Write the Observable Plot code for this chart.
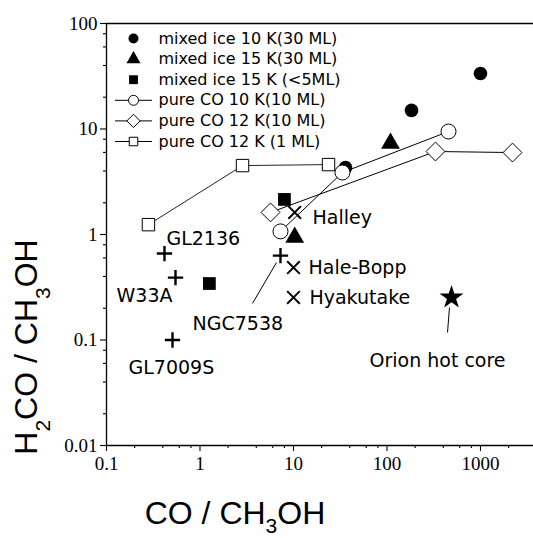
<!DOCTYPE html>
<html>
<head>
<meta charset="utf-8">
<script src="https://cdn.jsdelivr.net/npm/d3@7"></script>
<script src="https://cdn.jsdelivr.net/npm/@observablehq/plot@0.6"></script>
<style>
  html, body { margin: 0; padding: 0; background: white; }
</style>
</head>
<body>
<div id="chart"></div>
<script>
// ---- data ----
const mixed10K_x = [36, 183, 1000];
const mixed10K_y = [4.3, 15.0, 33.6];
const mixed15K_x = [109, 10.3];
const mixed15K_y = [7.3, 0.94];
const mixed15Ks_x = [8.0, 1.26];
const mixed15Ks_y = [2.15, 0.343];
const pureCO10K_x = [7.26, 33.4, 455];
const pureCO10K_y = [1.07, 3.87, 9.47];
const pureCO12K10_x = [5.68, 330, 2200];
const pureCO12K10_y = [1.62, 6.12, 5.98];
const pureCO12K1_x = [0.281, 2.85, 23.7];
const pureCO12K1_y = [1.24, 4.5, 4.6];

const protoNames = ["GL2136", "W33A", "GL7009S", "NGC7538"];
const proto_x = [0.417, 0.547, 0.508, 7.26];
const proto_y = [0.66, 0.39, 0.10, 0.63];
const protoLabel_x = [0.438, 0.128, 0.172, 0.832];
const protoLabel_y = [0.916, 0.264, 0.0548, 0.143];

const cometNames = ["Halley", "Hale-Bopp", "Hyakutake"];
const comet_x = [10.3, 10.0, 10.0];
const comet_y = [1.62, 0.486, 0.253];
const cometLabel_x = [16.0, 14.5, 14.8];
const cometLabel_y = [1.45, 0.487, 0.253];

const orionName = ["Orion hot core"];
const orion_x = [490];
const orion_y = [0.253];
const orionLabel_x = [65];
const orionLabel_y = [0.064];

// leader lines (label -> point)
const leader_x1 = [3.64, 444];
const leader_y1 = [0.222, 0.118];
const leader_x2 = [6.58, 466];
const leader_y2 = [0.543, 0.203];

const legendLabels = [
  "mixed ice 10 K(30 ML)",
  "mixed ice 15 K(30 ML)",
  "mixed ice 15 K (<5ML)",
  "pure CO 10 K(10 ML)",
  "pure CO 12 K(10 ML)",
  "pure CO 12 K (1 ML)"
];

const xTicks = [0.1, 1, 10, 100, 1000];
const yTicks = [0.01, 0.1, 1, 10, 100];
const xTickLabels = ["0.1", "1", "10", "100", "1000"];
const yTickLabels = ["0.01", "0.1", "1", "10", "100"];
const xMinor = [0.2, 0.4, 0.6, 0.8, 2, 4, 6, 8, 20, 40, 60, 80, 200, 400, 600, 800, 2000];
const yMinor = [0.02, 0.04, 0.06, 0.08, 0.2, 0.4, 0.6, 0.8, 2, 4, 6, 8, 20, 40, 60, 80];

const xDomain = [0.1, 3690];
const yDomain = [0.01, 100];

// ---- build tables ----
const zip = (xs, ys, extra = {}) => xs.map((x, i) => ({x, y: ys[i], ...Object.fromEntries(Object.entries(extra).map(([k, v]) => [k, v[i]]))}));
const mixed10K = zip(mixed10K_x, mixed10K_y);
const mixed15K = zip(mixed15K_x, mixed15K_y);
const mixed15Ks = zip(mixed15Ks_x, mixed15Ks_y);
const pureCO10K = zip(pureCO10K_x, pureCO10K_y);
const pureCO12K10 = zip(pureCO12K10_x, pureCO12K10_y);
const pureCO12K1 = zip(pureCO12K1_x, pureCO12K1_y);
const proto = zip(proto_x, proto_y);
const protoLbl = zip(protoLabel_x, protoLabel_y, {name: protoNames});
const comets = zip(comet_x, comet_y);
const cometLbl = zip(cometLabel_x, cometLabel_y, {name: cometNames});
const orion = zip(orion_x, orion_y);
const orionLbl = zip(orionLabel_x, orionLabel_y, {name: orionName});
const leaders = leader_x1.map((x1, i) => ({x1, y1: leader_y1[i], x2: leader_x2[i], y2: leader_y2[i]}));

// custom symbol: short horizontal line for legend
const hline = { draw(ctx, size) { const w = 18.5; ctx.moveTo(-w, 0); ctx.lineTo(w, 0); } };

const labelFont = "DejaVu Sans";
const legendFont = "DejaVu Sans";

const legendRowY = (i) => 15 + 20.6 * i;
const legMarkX = 27, legTextX = 52;
const legendSymbols = [
  {symbol: "circle", r: 5, fill: "black", stroke: "none"},
  {symbol: "triangle", r: 5.2, fill: "black", stroke: "none"},
  {symbol: "square", r: 5, fill: "black", stroke: "none"},
  {symbol: "circle", r: 5, fill: "white", stroke: "black", line: true},
  {symbol: "diamond2", r: 6, fill: "white", stroke: "black", line: true},
  {symbol: "square", r: 4.8, fill: "white", stroke: "black", line: true}
];
const legendMarks = legendSymbols.flatMap((s, i) => {
  const m = [];
  if (s.line) m.push(Plot.dot([0], {frameAnchor: "top-left", dx: legMarkX, dy: legendRowY(i), symbol: hline, stroke: "black", strokeWidth: 1, fill: "none", r: 5}));
  m.push(Plot.dot([0], {frameAnchor: "top-left", dx: legMarkX, dy: legendRowY(i), symbol: s.symbol, r: s.r, fill: s.fill, stroke: s.stroke, strokeWidth: 1}));
  m.push(Plot.text([legendLabels[i]], {frameAnchor: "top-left", dx: legTextX, dy: legendRowY(i), text: d => d, textAnchor: "start", lineAnchor: "middle", fontFamily: legendFont, fontSize: 16, fill: "black"}));
  return m;
});

const chart = Plot.plot({
  width: 533,
  height: 538,
  marginLeft: 106,
  marginTop: 23,
  marginBottom: 93,
  marginRight: 0,
  style: {background: "white", color: "black", fontFamily: "Liberation Serif", fontSize: "19px"},
  x: {type: "log", domain: xDomain},
  y: {type: "log", domain: yDomain},
  marks: [
    Plot.axisX({ticks: xTicks, tickSize: 6, tickPadding: 5, tickFormat: d => xTickLabels[xTicks.indexOf(d)], label: null, fontSize: 19, fontFamily: "Liberation Serif", strokeWidth: 1.1}),
    Plot.axisX({ticks: xMinor, tickSize: 3, tickFormat: () => "", label: null, strokeWidth: 1.1}),
    Plot.axisY({ticks: yTicks, tickSize: 6, tickPadding: 3, tickFormat: d => yTickLabels[yTicks.indexOf(d)], label: null, fontSize: 19, fontFamily: "Liberation Serif", strokeWidth: 1.1}),
    Plot.axisY({ticks: yMinor, tickSize: 3, tickFormat: () => "", label: null, strokeWidth: 1.1}),
    Plot.ruleX([xDomain[0]], {stroke: "black", strokeWidth: 1.3}),
    Plot.ruleY([yDomain[0]], {stroke: "black", strokeWidth: 1.3}),
    Plot.ruleY([yDomain[1]], {stroke: "black", strokeWidth: 1.3}),

    // connecting lines
    Plot.line(pureCO10K, {x: "x", y: "y", stroke: "black", strokeWidth: 1}),
    Plot.line(pureCO12K10, {x: "x", y: "y", stroke: "black", strokeWidth: 1}),
    Plot.line(pureCO12K1, {x: "x", y: "y", stroke: "#222", strokeWidth: 1}),
    Plot.link(leaders, {x1: "x1", y1: "y1", x2: "x2", y2: "y2", stroke: "black", strokeWidth: 1}),

    // experimental points
    Plot.dot(mixed10K, {x: "x", y: "y", symbol: "circle", r: 6.8, fill: "black"}),
    Plot.dot(mixed15K, {x: "x", y: "y", symbol: "triangle", r: 7, fill: "black"}),
    Plot.dot(mixed15Ks, {x: "x", y: "y", symbol: "square", r: 7.2, fill: "black"}),
    Plot.dot(pureCO10K, {x: "x", y: "y", symbol: "circle", r: 7.5, fill: "white", stroke: "black", strokeWidth: 1}),
    Plot.dot(pureCO12K10, {x: "x", y: "y", symbol: "diamond2", r: 8.5, fill: "white", stroke: "black", strokeWidth: 1}),
    Plot.dot(pureCO12K1, {x: "x", y: "y", symbol: "square", r: 7, fill: "white", stroke: "black", strokeWidth: 1}),

    // observations
    Plot.dot(proto, {x: "x", y: "y", symbol: "plus", r: 5, stroke: "black", strokeWidth: 2.4, fill: "none"}),
    Plot.dot(comets, {x: "x", y: "y", symbol: "times", r: 5.8, stroke: "black", strokeWidth: 2, fill: "none"}),
    Plot.dot(orion, {x: "x", y: "y", symbol: "star", r: 7.5, fill: "black"}),

    // labels
    Plot.text(protoLbl, {x: "x", y: "y", text: "name", textAnchor: "start", lineAnchor: "middle", fontFamily: labelFont, fontSize: 19, fill: "black"}),
    Plot.text(cometLbl, {x: "x", y: "y", text: "name", textAnchor: "start", lineAnchor: "middle", fontFamily: labelFont, fontSize: 19, fill: "black"}),
    Plot.text(orionLbl, {x: "x", y: "y", text: "name", textAnchor: "start", lineAnchor: "middle", fontFamily: labelFont, fontSize: 19, fill: "black"}),

    ...legendMarks
  ]
});

// axis titles with subscripts
const svg = d3.select(chart);
const xt = svg.append("text")
  .attr("x", 235).attr("y", 524)
  .attr("font-family", "Liberation Sans").attr("font-size", 32).attr("fill", "black");
xt.append("tspan").text("CO / CH");
xt.append("tspan").attr("dy", 9).attr("font-size", 21).text("3");
xt.append("tspan").attr("dy", -9).text("OH");

const yt = svg.append("text")
  .attr("transform", "rotate(-90)")
  .attr("x", -347).attr("y", 37)
  .attr("font-family", "Liberation Sans").attr("font-size", 32).attr("fill", "black");
yt.append("tspan").text("H");
yt.append("tspan").attr("dy", 13).attr("font-size", 21).text("2");
yt.append("tspan").attr("dy", -13).text("CO / CH");
yt.append("tspan").attr("dy", 13).attr("font-size", 21).text("3");
yt.append("tspan").attr("dy", -13).text("OH");

document.getElementById("chart").appendChild(chart);
</script>
</body>
</html>
